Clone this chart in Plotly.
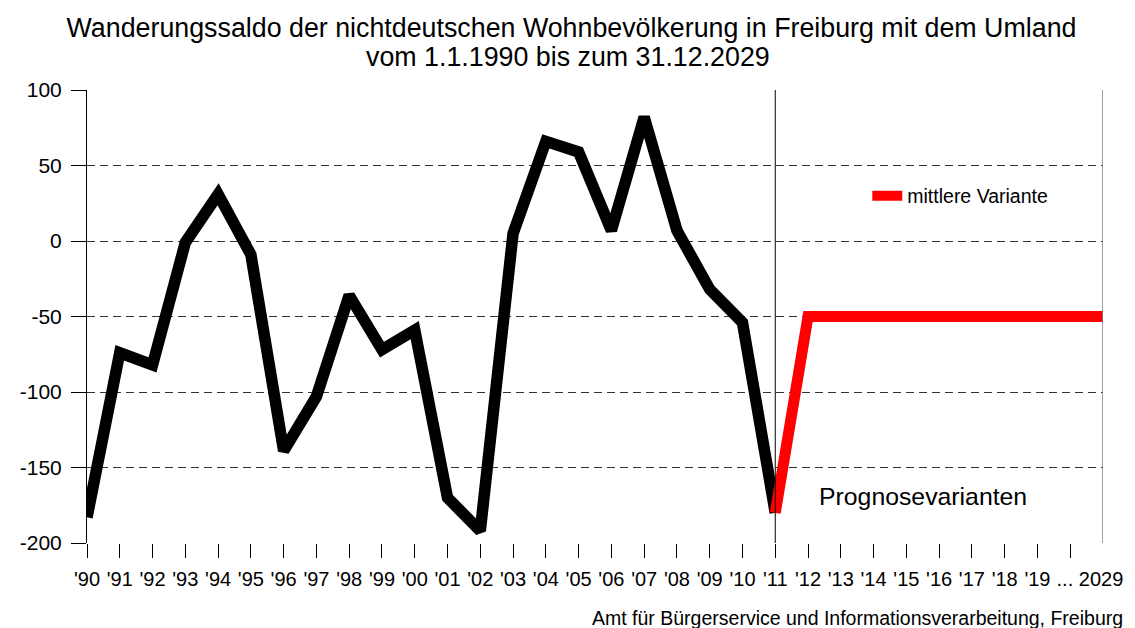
import plotly.graph_objects as go

# ---- data ----
x_labels = ["'90", "'91", "'92", "'93", "'94", "'95", "'96", "'97", "'98", "'99",
            "'00", "'01", "'02", "'03", "'04", "'05", "'06", "'07", "'08", "'09",
            "'10", "'11", "'12", "'13", "'14", "'15", "'16", "'17", "'18", "'19",
            "", "... 2029"]
hist_values = [-183, -74, -82, -1, 31, -9, -139, -103, -36, -72,
               -59, -170, -192, 5, 66, 59, 7, 82, 7, -32, -54, -180]
forecast_labels = ["'11", "'12", "'13", "'14", "'15", "'16", "'17", "'18", "'19", "", "... 2029"]
forecast_values = [-180, -50, -50, -50, -50, -50, -50, -50, -50, -50, -50]
y_ticks = [100, 50, 0, -50, -100, -150, -200]

title_line1 = "Wanderungssaldo der nichtdeutschen Wohnbevölkerung in Freiburg mit dem Umland"
title_line2 = "vom 1.1.1990 bis zum 31.12.2029"
legend_name = "mittlere Variante"
annot_text = "Prognosevarianten"
source_text = "Amt für Bürgerservice und Informationsverarbeitung, Freiburg"

FONT = "Arial, Liberation Sans, sans-serif"

hist_x = list(range(len(hist_values)))
fc_x = list(range(len(hist_values) - 1, len(hist_values) - 1 + len(forecast_values)))
n_cat = len(x_labels)

fig = go.Figure()
fig.add_trace(go.Scatter(x=hist_x, y=hist_values, mode="lines",
                         line=dict(color="black", width=11.5),
                         showlegend=False, hoverinfo="skip"))
fig.add_trace(go.Scatter(x=fc_x, y=forecast_values, mode="lines",
                         line=dict(color="#ff0000", width=11),
                         name=legend_name, showlegend=True))
# helper trace for second x-axis (last label)
fig.add_trace(go.Scatter(x=[None], y=[None], xaxis="x2", showlegend=False, hoverinfo="skip"))

last = n_cat - 1
# page body has an 8px margin: figure is sized/offset to compensate
fig.update_layout(
    width=1127, height=620,
    paper_bgcolor="white", plot_bgcolor="white",
    margin=dict(l=76, r=32, t=82, b=85),
    font=dict(family=FONT, color="black"),
    title=dict(text=title_line1, x=0.5, xanchor="center", y=0.969, yanchor="middle",
               yref="container", font=dict(size=26.8, family=FONT, color="black")),
    xaxis=dict(range=[0, last], tickmode="array",
               tickvals=list(range(last)), ticktext=x_labels[:last],
               ticks="outside", ticklen=14, tickcolor="black", tickwidth=1,
               ticklabelstandoff=4,
               showgrid=False, zeroline=False, showline=False,
               tickfont=dict(size=20, family=FONT, color="black")),
    xaxis2=dict(range=[0, last], overlaying="x", anchor="y", side="bottom",
                tickmode="array", tickvals=[last - 0.4], ticktext=[x_labels[last]],
                ticks="outside", ticklen=14, tickcolor="rgba(0,0,0,0)",
                ticklabelstandoff=4,
                showgrid=False, zeroline=False, showline=False,
                tickfont=dict(size=20, family=FONT, color="black")),
    yaxis=dict(range=[-200, 100], tickmode="array", tickvals=y_ticks,
               ticktext=[str(v) for v in y_ticks],
               ticks="outside", ticklen=15, tickcolor="black", tickwidth=1,
               ticklabelstandoff=5,
               showgrid=True, gridcolor="#333333", gridwidth=1, griddash="8px,5px",
               zeroline=False, showline=True, linecolor="black", linewidth=1,
               tickfont=dict(size=21, family=FONT, color="black")),
    legend=dict(x=0.768, y=0.766, xanchor="left", yanchor="middle",
                bgcolor="rgba(0,0,0,0)", borderwidth=0, itemwidth=30,
                font=dict(size=19.5, family=FONT, color="black")),
    showlegend=True,
)

# second title line
fig.add_annotation(text=title_line2, x=0.4735, y=1.0728, xref="paper", yref="paper",
                   xanchor="center", yanchor="middle", showarrow=False,
                   font=dict(size=26.8, family=FONT, color="black"))

# vertical separator at '11 and right border
fig.add_shape(type="line", xref="x", yref="y", x0=21, x1=21, y0=-200, y1=100,
              line=dict(color="black", width=1))
fig.add_shape(type="line", xref="x", yref="y", x0=last, x1=last, y0=-200, y1=100,
              line=dict(color="#808080", width=1.5))

fig.add_annotation(text=annot_text, x=25.5, y=-169.5, xref="x", yref="y",
                   showarrow=False, font=dict(size=24.8, family=FONT, color="black"))
fig.add_annotation(text=source_text, x=1.0216, y=-0.166, xref="paper", yref="paper",
                   xanchor="right", yanchor="middle", showarrow=False,
                   font=dict(size=19.5, family=FONT, color="black"))

fig.write_html("out.html")
